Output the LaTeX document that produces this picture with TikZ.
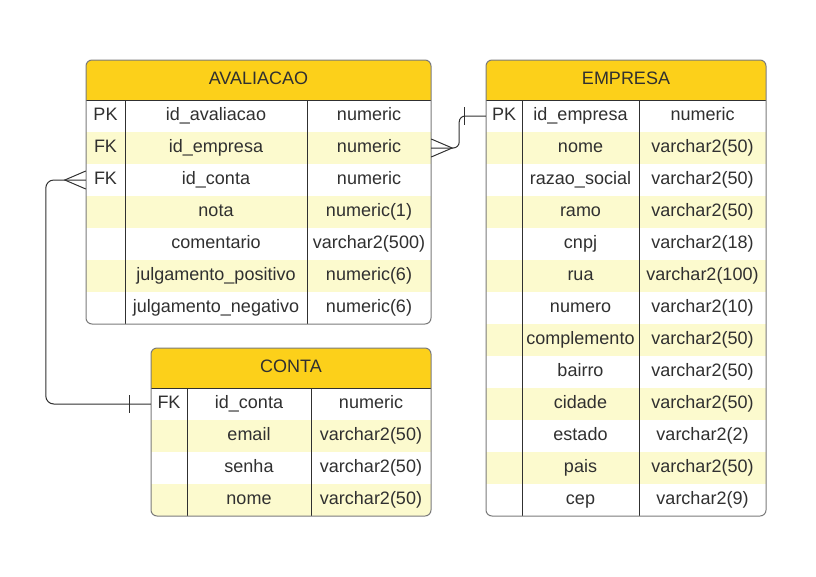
\documentclass[tikz,border=0pt]{standalone}
\usepackage{fontspec}
\setmainfont{Liberation Sans}
\usetikzlibrary{calc}
\definecolor{headfill}{HTML}{FCD01A}
\definecolor{stripe}{HTML}{FCFACE}
\definecolor{ink}{HTML}{303030}
\definecolor{frame}{HTML}{7A7A7A}
\tikzset{
  celltext/.style={inner sep=0pt, anchor=base, text=ink, font=\fontsize{18}{21.6}\selectfont},
  rowbox/.style={draw=none, inner sep=0pt, minimum height=32pt},
  headbox/.style={draw=none, fill=headfill, inner sep=0pt, minimum height=40pt},
  tblframe/.style={draw=frame, line width=1pt, rounded corners=6pt},
  colline/.style={draw=ink, line width=0.9pt},
  conn/.style={draw=ink, line width=1pt},
}
% table: #1 prefix, #2 left, #3 col1, #4 col2, #5 right, #6 top, #7 title, #8 number of rows, #9 rows
\newcommand{\ertable}[9]{%
  \pgfmathsetmacro{\tbot}{#6+40+32*#8}%
  \pgfmathsetmacro{\tw}{#5-#2}%
  \pgfmathsetmacro{\tcx}{(#2+#5)/2}%
  \pgfmathsetmacro{\kx}{(#2+#3)/2}%
  \pgfmathsetmacro{\nx}{(#3+#4)/2}%
  \pgfmathsetmacro{\tx}{(#4+#5)/2}%
  \begin{scope}
    \clip[rounded corners=6pt] (#2,#6) rectangle (#5,\tbot);
    \node[headbox, minimum width=\tw pt] (#1-h) at (\tcx,#6+20) {};
    \foreach [count=\i] \k/\n/\t in {#9} {
      \ifodd\i \def\rf{white}\else\def\rf{stripe}\fi
      \node[rowbox, fill=\rf, minimum width=\tw pt] (#1-r\i) at (\tcx,#6+40+32*\i-16) {};
      \node[celltext] (#1-k\i) at (\kx,#6+40+32*\i-12) {\k};
      \node[celltext] (#1-n\i) at (\nx,#6+40+32*\i-12) {\n};
      \node[celltext] (#1-t\i) at (\tx,#6+40+32*\i-12) {\t};
    }
  \end{scope}
  \node[celltext] (#1-title) at (\tcx,#6+24) {#7};
  \draw[colline] (#2,#6+40) -- (#5,#6+40);
  \draw[colline] (#3,#6+40) -- (#3,\tbot);
  \draw[colline] (#4,#6+40) -- (#4,\tbot);
  \draw[tblframe] (#2,#6) rectangle (#5,\tbot);
}
\begin{document}
\begin{tikzpicture}[x=1pt,y=-1pt]
\useasboundingbox (0,0) rectangle (816,576);

\ertable{av}{86}{125}{307}{431}{60}{AVALIACAO}{7}{%
  PK/id\_avaliacao/numeric,
  FK/id\_empresa/numeric,
  FK/id\_conta/numeric,
  /nota/numeric(1),
  /comentario/varchar2(500),
  /julgamento\_positivo/numeric(6),
  /julgamento\_negativo/numeric(6)}

\ertable{em}{486}{522}{639}{766}{60}{EMPRESA}{13}{%
  PK/id\_empresa/numeric,
  /nome/varchar2(50),
  /razao\_social/varchar2(50),
  /ramo/varchar2(50),
  /cnpj/varchar2(18),
  /rua/varchar2(100),
  /numero/varchar2(10),
  /complemento/varchar2(50),
  /bairro/varchar2(50),
  /cidade/varchar2(50),
  /estado/varchar2(2),
  /pais/varchar2(50),
  /cep/varchar2(9)}

\ertable{co}{151}{187}{311}{431}{348}{CONTA}{4}{%
  FK/id\_conta/numeric,
  /email/varchar2(50),
  /senha/varchar2(50),
  /nome/varchar2(50)}

% AVALIACAO.id_empresa (many) -> EMPRESA.id_empresa (one)
\draw[conn, rounded corners=6pt] (av-r2.east) -- ++(28,0) |- (em-r1.west);
\draw[conn] ($(av-r2.east)+(0,-9)$) -- ($(av-r2.east)+(21,0)$) -- ($(av-r2.east)+(0,9)$);
\draw[conn] ($(em-r1.west)+(-21,-9)$) -- ($(em-r1.west)+(-21,9)$);

% AVALIACAO.id_conta (many) -> CONTA.id_conta (one)
\draw[conn, rounded corners=8pt] (av-r3.west) -- ++(-40,0) |- (co-r1.west);
\draw[conn] ($(av-r3.west)+(0,-9)$) -- ($(av-r3.west)+(-21,0)$) -- ($(av-r3.west)+(0,9)$);
\draw[conn] ($(co-r1.west)+(-21,-9)$) -- ($(co-r1.west)+(-21,9)$);
\end{tikzpicture}
\end{document}
